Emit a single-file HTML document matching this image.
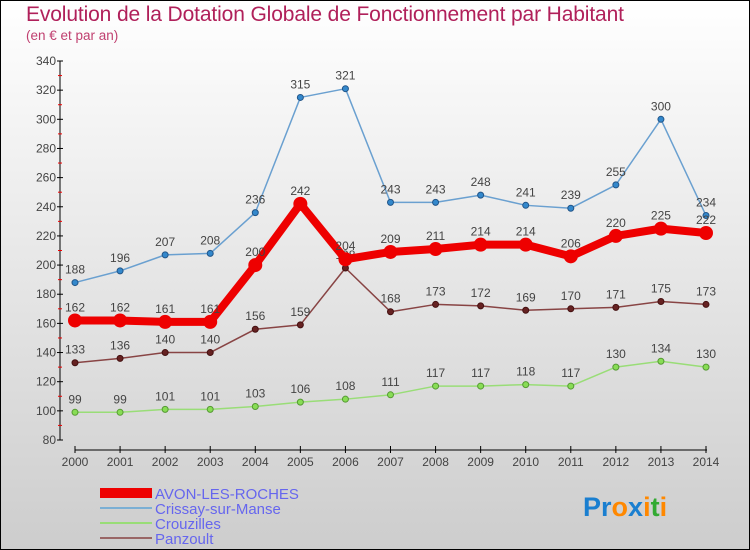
<!DOCTYPE html>
<html><head><meta charset="utf-8"><style>
body{margin:0}
svg{display:block;font-family:"Liberation Sans",sans-serif}
</style></head><body>
<svg id="c" width="750" height="550" xmlns="http://www.w3.org/2000/svg">
<defs><linearGradient id="bg" x1="0" y1="0" x2="0" y2="1"><stop offset="0" stop-color="#ffffff"/><stop offset="1" stop-color="#cdcdcd"/></linearGradient></defs>
<rect x="0.5" y="0.5" width="749" height="549" fill="url(#bg)" stroke="#000"/>
<text x="26" y="21" font-size="21" fill="#b0205a" textLength="598">Evolution de la Dotation Globale de Fonctionnement par Habitant</text>
<text x="26" y="40" font-size="13.5" fill="#c04070">(en € et par an)</text>
<g id="axes"></g>
<g id="series"></g>
<g>
<rect x="100" y="488" width="52" height="10" fill="#e00"/>
<text x="155" y="499" font-size="15" fill="#6666ee">AVON-LES-ROCHES</text>
<line x1="100" y1="508" x2="152" y2="508" stroke="#7bafd4" stroke-width="2"/>
<text x="155" y="514" font-size="15" fill="#6666ee">Crissay-sur-Manse</text>
<line x1="100" y1="523" x2="152" y2="523" stroke="#99dd77" stroke-width="2"/>
<text x="155" y="529" font-size="15" fill="#6666ee">Crouzilles</text>
<line x1="100" y1="538" x2="152" y2="538" stroke="#996666" stroke-width="2"/>
<text x="155" y="544" font-size="15" fill="#6666ee">Panzoult</text>
</g>
<text x="583" y="516" font-size="27" font-weight="bold"><tspan fill="#1a7fd0">Pr</tspan><tspan fill="#ff8800">o</tspan><tspan fill="#1a7fd0">x</tspan><tspan fill="#ff8800">i</tspan><tspan fill="#33aa33">t</tspan><tspan fill="#ff8800">i</tspan></text>
</svg>
<script>
const years=[2000,2001,2002,2003,2004,2005,2006,2007,2008,2009,2010,2011,2012,2013,2014];
const yTicks=[80,100,120,140,160,180,200,220,240,260,280,300,320,340];
const avon=[162,162,161,161,200,242,204,209,211,214,214,206,220,225,222];
const crissay=[188,196,207,208,236,315,321,243,243,248,241,239,255,300,234];
const crouzilles=[99,99,101,101,103,106,108,111,117,117,118,117,130,134,130];
const panzoult=[133,136,140,140,156,159,198,168,173,172,169,170,171,175,173];
const NS='http://www.w3.org/2000/svg';
const xS=i=>75+i*(631/14);
const yS=v=>440-(v-80)*(379/260);
function mk(t,a,p){const e=document.createElementNS(NS,t);for(const k in a)e.setAttribute(k,a[k]);p.appendChild(e);return e;}
const ax=document.getElementById('axes');
let yl=mk('line',{x1:60,y1:61,x2:60,y2:440,stroke:'#000','stroke-width':1},ax);


yTicks.forEach((v,i)=>{
  mk('line',{x1:57,y1:yS(v),x2:63,y2:yS(v),stroke:'#000'},ax);
  if(i<yTicks.length-1)mk('line',{x1:58,y1:yS(v+10),x2:62,y2:yS(v+10),stroke:'#e00'},ax);
  let t=mk('text',{x:56,y:yS(v)+4,'font-size':12,fill:'#444','text-anchor':'end'},ax);
  t.textContent=v;
  
  
});
let xl=mk('line',{x1:75,y1:450,x2:707,y2:450,stroke:'#000'},ax);


years.forEach((y,i)=>{
  mk('line',{x1:xS(i),y1:446,x2:xS(i),y2:453,stroke:'#000'},ax);
  let t=mk('text',{x:xS(i),y:466,'font-size':12,fill:'#444','text-anchor':'middle'},ax);
  t.textContent=y;
  
  
});
const sg=document.getElementById('series');
function series(d,name,col,w,r,dot,dotStroke){
  const g=mk('g',{},sg);
  
  
  mk('polyline',{points:d.map((v,i)=>xS(i)+','+yS(v)).join(' '),fill:'none',stroke:col,'stroke-width':w,'stroke-linejoin':'round'},g);
  d.forEach((v,i)=>{
    const c=mk('circle',{cx:xS(i),cy:yS(v),r:r,fill:dot,stroke:dotStroke,'stroke-width':1},g);
    
    
    const t=mk('text',{x:xS(i),y:yS(v)-9,'font-size':12,fill:'#444','text-anchor':'middle'},g);
    t.textContent=v;
  });
}
series(crouzilles,'crouzilles','#99dd77',1.5,3,'#88dd55','#559933');
series(panzoult,'panzoult','#884444',1.5,3,'#662222','#441111');
series(crissay,'crissay','#6aa0d0',1.5,3,'#3388cc','#225588');
series(avon,'avon','#ee0000',8,6.5,'#ee0000','#ee0000');
</script>
</body></html>
